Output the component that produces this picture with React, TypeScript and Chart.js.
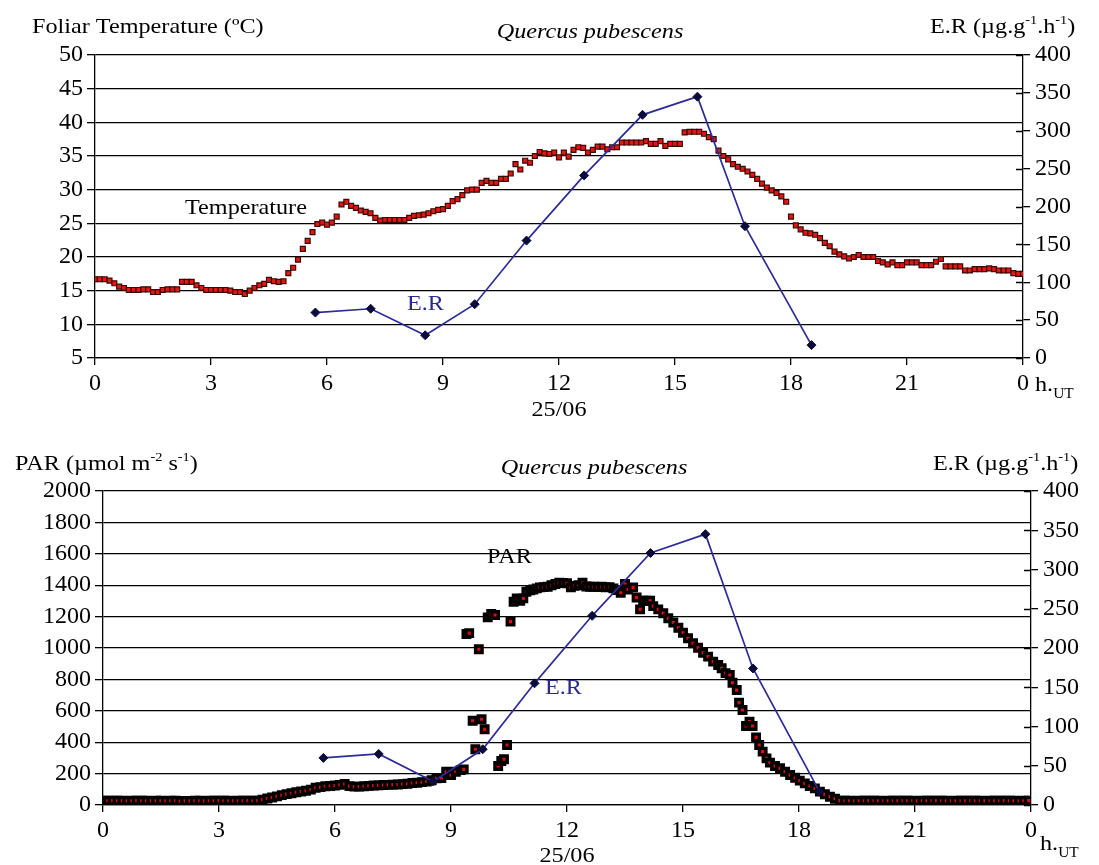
import React, { useEffect, useRef } from "react";
import { Chart, registerables } from "chart.js";
Chart.register(...registerables);

// ---------------- DATA ----------------
const HOUR_TICKS = [0, 3, 6, 9, 12, 15, 18, 21, 24];

// Foliar temperature, one reading every 0.125 h from 0 h
const TEMP_START_H = 0;
const TEMP_STEP_H = 0.125;
const TEMP_VALUES = [
  16.7, 16.7, 16.7, 16.5, 16.1, 15.6, 15.4, 15.1,
  15.1, 15.1, 15.2, 15.2, 14.8, 14.8, 15.1, 15.2,
  15.2, 15.2, 16.3, 16.3, 16.3, 15.8, 15.4, 15.1,
  15.1, 15.1, 15.1, 15.1, 15.0, 14.8, 14.8, 14.5,
  15.0, 15.4, 15.8, 16.0, 16.6, 16.4, 16.3, 16.4,
  17.6, 18.4, 19.6, 21.2, 22.4, 23.7, 24.9, 25.1,
  24.8, 25.1, 26.0, 27.8, 28.2, 27.6, 27.3, 26.9,
  26.7, 26.5, 25.8, 25.4, 25.5, 25.5, 25.5, 25.5,
  25.5, 25.8, 26.1, 26.2, 26.3, 26.5, 26.8, 27.0,
  27.1, 27.6, 28.3, 28.6, 29.2, 29.9, 30.0, 30.0,
  31.0, 31.3, 31.0, 31.0, 31.6, 31.6, 32.4, 33.8,
  33.0, 34.3, 34.0, 35.0, 35.6, 35.4, 35.3, 35.5,
  34.8, 35.5, 34.9, 35.9, 36.3, 36.2, 35.5, 35.9,
  36.4, 36.4, 36.0, 36.3, 36.3, 37.0, 37.0, 37.0,
  37.0, 37.0, 37.2, 36.8, 36.8, 37.2, 36.5, 36.8,
  36.8, 36.8, 38.5, 38.6, 38.6, 38.6, 38.3, 37.8,
  37.5, 35.8, 35.0, 34.5, 33.8, 33.4, 33.1, 32.7,
  32.2, 31.6, 30.9, 30.3, 29.9, 29.5, 29.0, 28.2,
  26.0, 24.7, 24.1, 23.6, 23.5, 23.3, 22.8, 22.1,
  21.6, 20.8, 20.4, 20.1, 19.8, 20.0, 20.3, 20.0,
  20.0, 20.0, 19.4, 19.2, 18.9, 19.2, 18.8, 18.8,
  19.2, 19.2, 19.2, 18.8, 18.8, 18.8, 19.3, 19.7,
  18.6, 18.6, 18.6, 18.6, 18.0, 18.0, 18.2, 18.2,
  18.2, 18.3, 18.2, 18.0, 18.0, 18.0, 17.6, 17.5,
  17.5,
];

// Emission rate (E.R), same sampling in both panels
const ER_HOURS = [5.7, 7.13, 8.54, 9.82, 11.16, 12.65, 14.16, 15.58, 16.81, 18.53];
const ER_VALUES = [60, 65, 30, 71, 155, 241, 321, 345, 174, 17];

// PAR readings
const PAR_HOURS = [
  0, 0.125, 0.25, 0.375, 0.5, 0.625, 0.75, 0.875, 1, 1.125, 1.25, 1.375, 1.5, 1.625, 1.75, 1.875,
  2, 2.125, 2.25, 2.375, 2.5, 2.625, 2.75, 2.875, 3, 3.125, 3.25, 3.375, 3.5, 3.625, 3.75, 3.875, 4,
  4.125, 4.25, 4.375, 4.5, 4.625, 4.75, 4.875, 5, 5.125, 5.25, 5.375, 5.5, 5.625, 5.75, 5.875,
  6, 6.125, 6.25, 6.375, 6.5, 6.625, 6.75, 6.875, 7, 7.125, 7.25, 7.375, 7.5, 7.625, 7.75, 7.875,
  8, 8.125, 8.25, 8.375, 8.5, 8.625, 8.75, 8.875, 9, 9.125, 9.25,
  9.33, 9.4, 9.47, 9.56, 9.63, 9.72, 9.79, 9.87, 9.95, 10.04, 10.14, 10.22, 10.3, 10.37, 10.45,
  10.54, 10.62, 10.7, 10.79, 10.87, 10.95,
  11.05, 11.13, 11.22, 11.3, 11.4, 11.5, 11.6, 11.7, 11.8, 11.9, 12, 12.1, 12.2, 12.3, 12.4, 12.5,
  12.6, 12.7, 12.8, 12.9, 13, 13.1, 13.2, 13.28, 13.39, 13.5, 13.58, 13.71, 13.8, 13.89, 13.97,
  14.06, 14.15, 14.23, 14.36, 14.49, 14.62, 14.75, 14.88, 15, 15.13, 15.26, 15.39, 15.52, 15.65,
  15.78, 15.91, 16, 16.1, 16.21, 16.28, 16.39, 16.45, 16.54, 16.63, 16.72, 16.8, 16.89, 16.97,
  17.06, 17.16, 17.25, 17.38, 17.51, 17.64, 17.77, 17.9, 18.02, 18.15, 18.28, 18.41, 18.54,
  18.67, 18.8, 18.93, 19.06,
  19.19, 19.31, 19.44, 19.56, 19.69, 19.81, 19.94, 20.06, 20.19, 20.31, 20.44, 20.56, 20.69,
  20.81, 20.94, 21.06, 21.19, 21.31, 21.44, 21.56, 21.69, 21.81, 21.94, 22.06, 22.19, 22.31,
  22.44, 22.56, 22.69, 22.81, 22.94, 23.06, 23.19, 23.31, 23.44, 23.56, 23.69, 23.81, 23.94,
];
const PAR_VALUES = [
  28, 27, 28, 27, 27, 26, 27, 28, 27, 27, 26, 27, 27, 26, 27, 27,
  25, 26, 26, 27, 27, 26, 27, 27, 28, 27, 27, 26, 27, 27, 28, 27, 28,
  34, 41, 48, 55, 63, 69, 75, 81, 86, 91, 98, 110, 114, 119, 121,
  124, 128, 134, 120, 117, 117, 119, 122, 124, 125, 127, 128, 130, 131, 133, 135,
  140, 142, 146, 150, 158, 170, 172, 212, 190, 212, 222,
  227, 1089, 1095, 537, 355, 992, 546, 482, 1195, 1217, 1210, 248, 280, 291, 382,
  1168, 1295, 1316, 1300, 1316, 1358,
  1368, 1373, 1380, 1386, 1388, 1390, 1400, 1408, 1416, 1414, 1412, 1386, 1396, 1400, 1416, 1392,
  1390, 1390, 1388, 1390, 1386, 1388, 1380, 1369, 1352, 1408, 1373, 1386, 1322, 1246, 1301,
  1301, 1301, 1267, 1246, 1221, 1189, 1162, 1129, 1097, 1062, 1030, 1002, 970, 945,
  913, 892, 871, 840, 828, 779, 732, 652, 605, 503, 531, 503, 431, 382,
  340, 297, 270, 248, 234, 212, 191, 174, 155, 138, 121, 106, 85,
  68, 53, 40, 28,
  27, 27, 26, 27, 27, 28, 27, 27, 26, 27, 27, 27, 28,
  27, 27, 26, 27, 27, 27, 28, 27, 27, 26, 27, 27, 27,
  28, 27, 27, 26, 27, 27, 27, 28, 27, 27, 26, 27, 28,
];

// ---------------- STYLE / HELPERS ----------------
const FONT = '"Liberation Serif", "Times New Roman", serif';
const TICK_SIZE = 24;
const SX = 1.1; // horizontal stretch of annotation text
const ER_LINE = "#2c2c98";
const ER_LABEL = "#2a2a8c";

type Part = { t: string; size?: number; dy?: number };
type TextItem = { parts: Part[]; x: number; y: number; align?: "left" | "center"; italic?: boolean; color?: string };

function drawRich(ctx: CanvasRenderingContext2D, item: TextItem) {
  const base = 22;
  const fontFor = (p: Part) => `${item.italic ? "italic " : ""}${p.size || base}px ${FONT}`;
  let total = 0;
  for (const p of item.parts) {
    ctx.font = fontFor(p);
    total += ctx.measureText(p.t).width * SX;
  }
  let cx = item.align === "center" ? item.x - total / 2 : item.x;
  ctx.fillStyle = item.color || "#000";
  ctx.textBaseline = "alphabetic";
  ctx.textAlign = "left";
  for (const p of item.parts) {
    ctx.font = fontFor(p);
    const w = ctx.measureText(p.t).width * SX;
    ctx.save();
    ctx.translate(cx, item.y + (p.dy || 0));
    ctx.scale(SX, 1);
    ctx.fillText(p.t, 0, 0);
    ctx.restore();
    cx += w;
  }
}

function textPlugin(items: TextItem[]) {
  return {
    id: "texts",
    afterDraw(chart: any) {
      const ctx = chart.ctx as CanvasRenderingContext2D;
      ctx.save();
      // inward half of the right-axis tick marks
      const y1 = chart.scales.y1;
      const right = chart.chartArea.right;
      ctx.strokeStyle = "#000";
      ctx.lineWidth = 1.3;
      ctx.beginPath();
      y1.ticks.forEach((t: any) => {
        const py = Math.round(y1.getPixelForValue(t.value)) + 0.5;
        ctx.moveTo(right - 7, py);
        ctx.lineTo(right, py);
      });
      ctx.stroke();
      items.forEach((it) => drawRich(ctx, it));
      ctx.restore();
    },
  };
}

const plainNumber = (v: any) => String(v);

function xScale(height: number) {
  return {
    type: "linear",
    position: "bottom",
    min: 0,
    max: 24,
    afterBuildTicks: (s: any) => {
      s.ticks = HOUR_TICKS.map((v) => ({ value: v }));
    },
    ticks: {
      callback: (v: any) => String(Number(v) % 24),
      font: { family: FONT, size: TICK_SIZE },
      color: "#000",
      padding: 4,
      maxRotation: 0,
      autoSkip: false,
    },
    grid: { drawOnChartArea: false, drawTicks: true, tickLength: 7, color: "#000", lineWidth: 1.3 },
    border: { display: true, color: "#000", width: 1.3 },
    afterFit: (s: any) => {
      s.height = height;
    },
  };
}

function yLeft(min: number, max: number, step: number, width: number) {
  return {
    type: "linear",
    position: "left",
    min,
    max,
    ticks: { stepSize: step, autoSkip: false, font: { family: FONT, size: TICK_SIZE }, color: "#000", padding: 4, callback: plainNumber },
    grid: { color: "#000", lineWidth: 1.3, drawTicks: true, tickLength: 8 },
    border: { display: true, color: "#000", width: 1.3 },
    afterFit: (s: any) => {
      s.width = width;
    },
  };
}

function yRight(width: number) {
  return {
    type: "linear",
    position: "right",
    min: 0,
    max: 400,
    ticks: { stepSize: 50, autoSkip: false, font: { family: FONT, size: TICK_SIZE }, color: "#000", padding: 5, callback: plainNumber },
    grid: { drawOnChartArea: false, drawTicks: true, tickLength: 7, color: "#000", lineWidth: 1.3 },
    border: { display: true, color: "#000", width: 1.3 },
    afterFit: (s: any) => {
      s.width = width;
    },
  };
}

function erDataset() {
  return {
    label: "E.R",
    data: ER_HOURS.map((h, i) => ({ x: h, y: ER_VALUES[i] })),
    yAxisID: "y1",
    showLine: true,
    borderColor: ER_LINE,
    borderWidth: 1.7,
    pointStyle: "rectRot",
    pointRadius: 4.5,
    pointBackgroundColor: "#0c0c3c",
    pointBorderColor: "#0c0c3c",
    pointBorderWidth: 1,
    order: 0,
  };
}

const unitsER: Part[] = [
  { t: "E.R (µg.g" },
  { t: "-1", size: 13, dy: -9 },
  { t: ".h" },
  { t: "-1", size: 13, dy: -9 },
  { t: ")" },
];

function topConfig(): any {
  return {
    type: "scatter",
    data: {
      datasets: [
        erDataset(),
        {
          label: "Temperature",
          data: TEMP_VALUES.map((v, i) => ({ x: TEMP_START_H + i * TEMP_STEP_H, y: v })),
          yAxisID: "y",
          showLine: false,
          pointStyle: "rect",
          pointRadius: 3.5,
          pointBackgroundColor: "#e5150f",
          pointBorderColor: "#3a0a08",
          pointBorderWidth: 1.2,
          order: 1,
        },
      ],
    },
    options: {
      responsive: false,
      animation: false,
      devicePixelRatio: 1,
      events: [],
      layout: { padding: { top: 55, left: 0, right: 0, bottom: 0 } },
      plugins: { legend: { display: false }, tooltip: { enabled: false } },
      scales: {
        x: xScale(432 - 358),
        y: yLeft(5, 50, 5, 95),
        y1: yRight(1099 - 1023),
      },
    },
    plugins: [
      textPlugin([
        { parts: [{ t: "Foliar Temperature (ºC)" }], x: 32, y: 33 },
        { parts: [{ t: "Quercus pubescens" }], x: 590, y: 38, align: "center", italic: true },
        { parts: unitsER, x: 930, y: 33 },
        { parts: [{ t: "Temperature" }], x: 185, y: 214 },
        { parts: [{ t: "E.R" }], x: 407, y: 310, color: ER_LABEL },
        { parts: [{ t: "25/06" }], x: 559, y: 416, align: "center" },
        { parts: [{ t: "h." }, { t: "UT", size: 14, dy: 7 }], x: 1035, y: 391 },
      ]),
    ],
  };
}

function bottomConfig(): any {
  return {
    type: "scatter",
    data: {
      datasets: [
        erDataset(),
        {
          label: "PAR",
          data: PAR_HOURS.map((h, i) => ({ x: h, y: PAR_VALUES[i] })),
          yAxisID: "y",
          showLine: false,
          pointStyle: "rect",
          pointRadius: 4.6,
          pointBackgroundColor: "#d41010",
          pointBorderColor: "#000",
          pointBorderWidth: 3.4,
          order: 1,
        },
      ],
    },
    options: {
      responsive: false,
      animation: false,
      devicePixelRatio: 1,
      events: [],
      layout: { padding: { top: 59, left: 0, right: 0, bottom: 0 } },
      plugins: { legend: { display: false }, tooltip: { enabled: false } },
      scales: {
        x: xScale(433 - 373),
        y: yLeft(0, 2000, 200, 103),
        y1: yRight(1099 - 1031),
      },
    },
    plugins: [
      textPlugin([
        { parts: [{ t: "PAR (µmol m" }, { t: "-2", size: 13, dy: -9 }, { t: " s" }, { t: "-1", size: 13, dy: -9 }, { t: ")" }], x: 15, y: 38 },
        { parts: [{ t: "Quercus pubescens" }], x: 594, y: 42, align: "center", italic: true },
        { parts: unitsER, x: 933, y: 38 },
        { parts: [{ t: "PAR" }], x: 487, y: 131 },
        { parts: [{ t: "E.R" }], x: 545, y: 262, color: ER_LABEL },
        { parts: [{ t: "25/06" }], x: 567, y: 430, align: "center" },
        { parts: [{ t: "h." }, { t: "UT", size: 14, dy: 7 }], x: 1040, y: 418 },
      ]),
    ],
  };
}

export default function App() {
  const topRef = useRef<HTMLCanvasElement>(null);
  const botRef = useRef<HTMLCanvasElement>(null);
  useEffect(() => {
    const c1 = new Chart(topRef.current as HTMLCanvasElement, topConfig());
    const c2 = new Chart(botRef.current as HTMLCanvasElement, bottomConfig());
    return () => {
      c1.destroy();
      c2.destroy();
    };
  }, []);
  return (
    <div style={{ position: "absolute", left: 0, top: 0, width: 1099, height: 865, background: "#fff" }}>
      <canvas ref={topRef} width={1099} height={432} style={{ position: "absolute", left: 0, top: 0, width: 1099, height: 432 }} />
      <canvas ref={botRef} width={1099} height={433} style={{ position: "absolute", left: 0, top: 432, width: 1099, height: 433 }} />
    </div>
  );
}
